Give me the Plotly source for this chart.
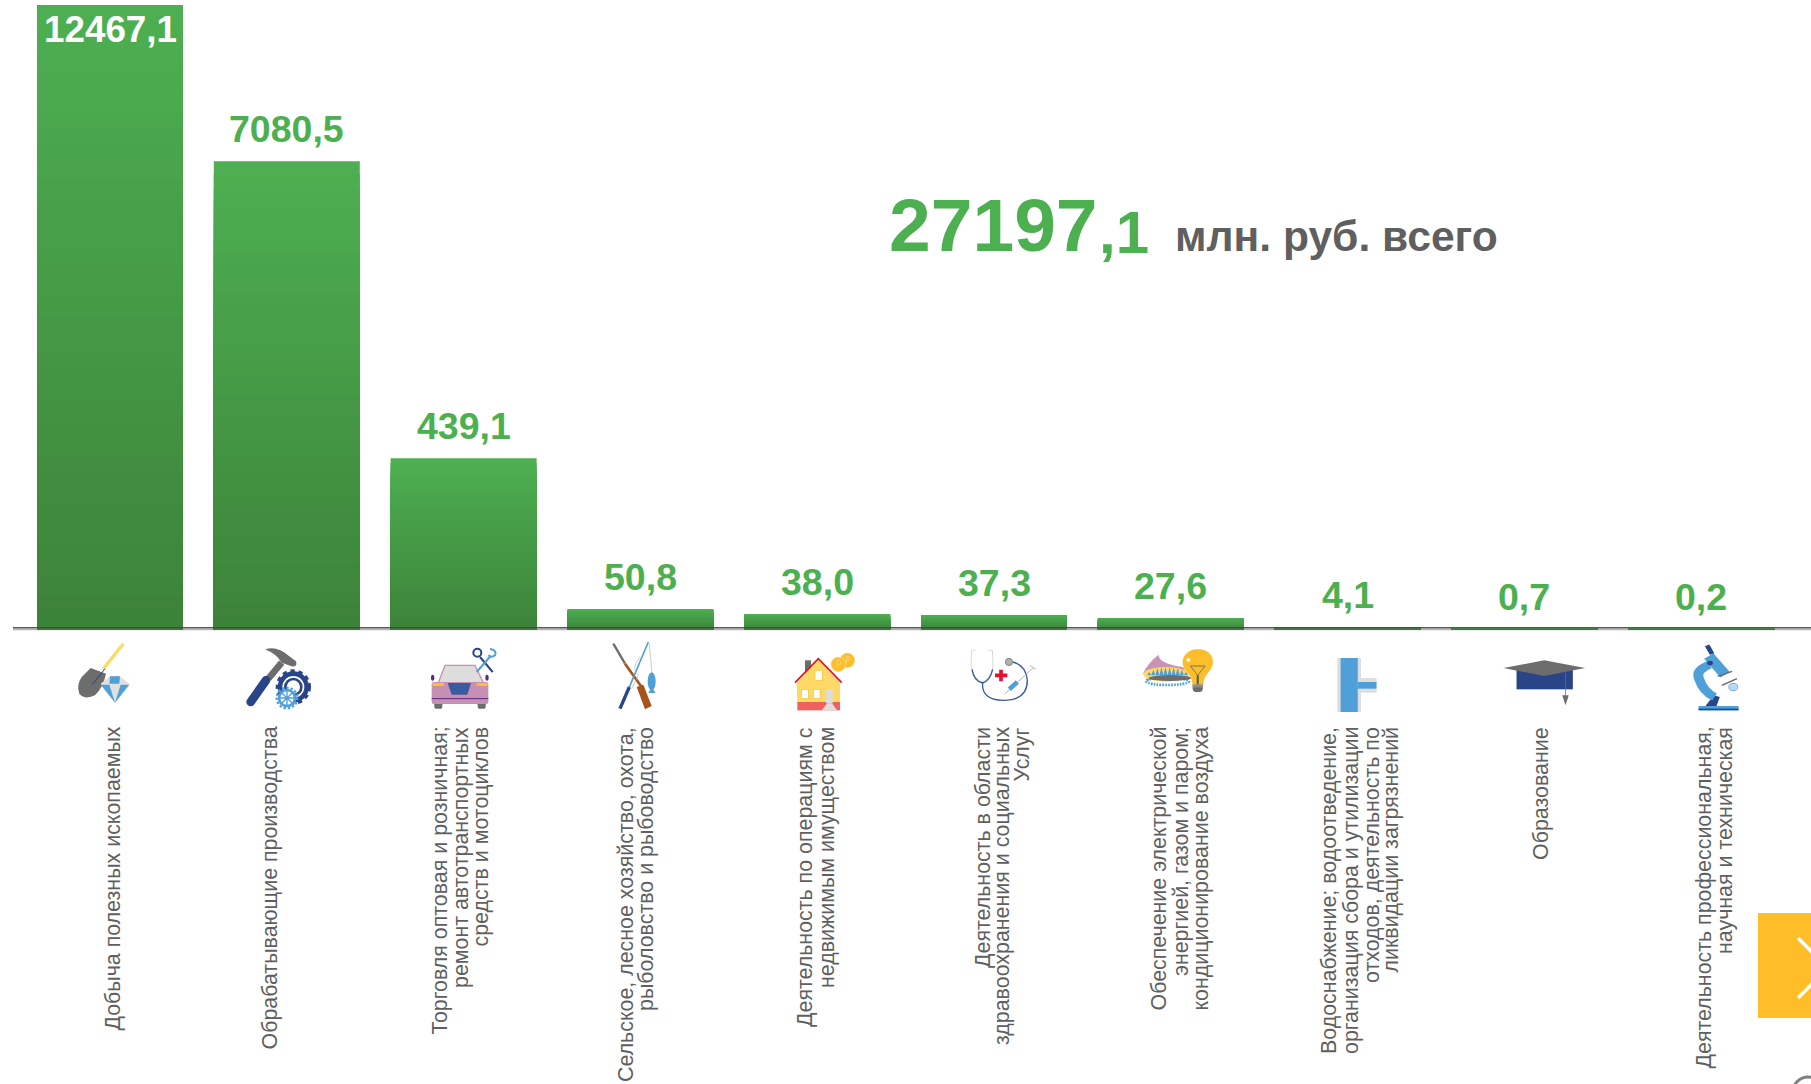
import base64
import plotly.graph_objects as go

W, H = 1811, 1084

# ---- data ----
categories = [
    "Добыча полезных ископаемых",
    "Обрабатывающие производства",
    "Торговля оптовая и розничная; ремонт автотранспортных средств и мотоциклов",
    "Сельское, лесное хозяйство, охота, рыболовство и рыбоводство",
    "Деятельность по операциям с недвижимым имуществом",
    "Деятельность в области здравоохранения и социальных Услуг",
    "Обеспечение электрической энергией, газом и паром; кондиционирование воздуха",
    "Водоснабжение; водоотведение, организация сбора и утилизации отходов, деятельность по ликвидации загрязнений",
    "Образование",
    "Деятельность профессиональная, научная и техническая",
]
label_lines = [
    ["Добыча полезных ископаемых"],
    ["Обрабатывающие производства"],
    ["Торговля оптовая и розничная;", "ремонт автотранспортных", "средств и мотоциклов"],
    ["Сельское, лесное хозяйство, охота,", "рыболовство и рыбоводство"],
    ["Деятельность по операциям с", "недвижимым имуществом"],
    ["Деятельность в области", "здравоохранения и социальных", "Услуг"],
    ["Обеспечение электрической", "энергией, газом и паром;", "кондиционирование воздуха"],
    ["Водоснабжение; водоотведение,", "организация сбора и утилизации", "отходов, деятельность по", "ликвидации загрязнений"],
    ["Образование"],
    ["Деятельность профессиональная,", "научная и техническая"],
]
value_labels = ["12467,1", "7080,5", "439,1", "50,8", "38,0", "37,3", "27,6", "4,1", "0,7", "0,2"]
# the source chart does not scale linearly: drawn bar lengths, % of the tallest bar
bar_lengths = [100, 75.0, 27.5, 3.36, 2.56, 2.4, 1.92, 0.43, 0.2, 0.2]
total_big = "27197"
total_small = ",1"
total_unit = "млн. руб. всего"

# ---- layout helpers (page pixels -> paper) ----
px = lambda v: v / W
py = lambda v: 1 - v / H
GREEN, GREY = "#4CAF50", "#5F5F5F"
FONT = "Liberation Sans, Arial, sans-serif"
line_x = [[112.6], [269], [439.5, 460.5, 480.5], [625.5, 646], [805, 826.5], [982.5, 1002, 1021.5],
          [1158.5, 1180.5, 1200.5], [1328.5, 1350.5, 1372, 1390.5], [1540.5], [1703.5, 1724.5]]

fig = go.Figure()

# vertical gradient of the bars: overlaid bars, lightest and longest first
N = 36
top, bottom = (0x4D, 0xAF, 0x51), (0x3C, 0x82, 0x39)
for k in range(N):
    t = k / N
    col = tuple(round(a + (b - a) * t) for a, b in zip(top, bottom))
    fig.add_trace(go.Bar(
        x=categories, y=[h * (1 - t) for h in bar_lengths],
        marker=dict(color="rgb(%d,%d,%d)" % col, line=dict(width=0)),
        hoverinfo="skip", showlegend=False,
    ))

ann = []
for i, lab in enumerate(value_labels):
    first = i == 0
    ann.append(dict(x=i, y=bar_lengths[i], xref="x", yref="y", text="<b>%s</b>" % lab, showarrow=False,
                    xanchor="center", yanchor="top" if first else "bottom", yshift=-2.5 if first else 10,
                    font=dict(family=FONT, size=36.8 if first else 37.5, color="#FFFFFF" if first else GREEN),
                    borderpad=0))
for lines, xs in zip(label_lines, line_x):
    for s, xp in zip(lines, xs):
        ann.append(dict(x=px(xp), y=py(726), xref="paper", yref="paper", text=s, showarrow=False, textangle=-90,
                        xanchor="center", yanchor="top", borderpad=0,
                        font=dict(family=FONT, size=21.4, color=GREY)))
ann.append(dict(x=px(888), y=py(225), xref="paper", yref="paper", xanchor="left", yanchor="middle", showarrow=False,
                text="<b>%s</b>" % total_big, font=dict(family=FONT, size=75, color=GREEN), borderpad=0))
ann.append(dict(x=px(1098), y=py(232), xref="paper", yref="paper", xanchor="left", yanchor="middle", showarrow=False,
                text="<b>%s</b>" % total_small, font=dict(family=FONT, size=60, color=GREEN), borderpad=0))
ann.append(dict(x=px(1174), y=py(236), xref="paper", yref="paper", xanchor="left", yanchor="middle", showarrow=False,
                text="<b>%s</b>" % total_unit, font=dict(family=FONT, size=42.6, color=GREY), borderpad=0))

BL, NV, GR, YL = "#4F9FD9", "#2A4488", "#6D6D6D", "#FFD966"

group1 = f'''
<line x1="190" y1="35" x2="130" y2="110" stroke="{YL}" stroke-width="10"/>
<path d="M92,108 L138,125 Q130,165 105,190 Q75,205 58,185 Q48,160 65,135 Z" fill="{GR}"/>
<line x1="135" y1="110" x2="97" y2="158" stroke="{NV}" stroke-width="3"/>
<polygon points="122,155 150,133 180,133 208,155 165,212" fill="#E0E0E0"/>
<polygon points="150,133 180,133 178,155 148,155" fill="{BL}"/>
<polygon points="122,158 148,158 165,212" fill="{BL}"/>
<polygon points="208,158 182,158 165,212" fill="{BL}"/>
<path d="M615,52 Q650,40 682,68 L708,88 Q714,106 695,103 L665,92 Q650,66 615,52 Z" fill="{GR}"/>
<line x1="665" y1="92" x2="625" y2="140" stroke="{GR}" stroke-width="20"/>
<line x1="618" y1="145" x2="572" y2="210" stroke="{NV}" stroke-width="26" stroke-linecap="round"/>
<circle cx="700" cy="165" r="40" fill="white" stroke="{NV}" stroke-width="14"/>
<circle cx="700" cy="165" r="48" fill="none" stroke="{NV}" stroke-width="10" stroke-dasharray="13 11"/>
<circle cx="700" cy="165" r="24" fill="none" stroke="{NV}" stroke-width="8"/>
<circle cx="681" cy="198" r="24" fill="white" stroke="{BL}" stroke-width="8"/>
<circle cx="681" cy="198" r="31" fill="none" stroke="{BL}" stroke-width="7" stroke-dasharray="7 6"/>
<path d="M681,176 V220 M659,198 H703 M665,182 L697,214 M697,182 L665,214" stroke="{BL}" stroke-width="4"/>
<rect x="1123" y="212" width="24" height="18" rx="5" fill="{GR}"/>
<rect x="1253" y="212" width="24" height="18" rx="5" fill="{GR}"/>
<polygon points="1135,152 1155,100 1245,100 1270,152" fill="#DDDDDD" stroke="#C78FB3" stroke-width="4"/>
<rect x="1115" y="150" width="170" height="66" rx="6" fill="#C78FB3"/>
<rect x="1117" y="153" width="35" height="9" fill="#FDBE2C"/>
<rect x="1250" y="153" width="33" height="9" fill="#FDBE2C"/>
<polygon points="1163,153 1233,153 1222,188 1175,188" fill="#3A5BA0"/>
<line x1="1115" y1="200" x2="1285" y2="200" stroke="#5B2A86" stroke-width="3"/>
<ellipse cx="1118" cy="137" rx="5" ry="9" fill="#5B2A86"/><ellipse cx="1281" cy="137" rx="5" ry="9" fill="#5B2A86"/>
<line x1="1260" y1="75" x2="1298" y2="120" stroke="{NV}" stroke-width="6"/>
<circle cx="1252" cy="62" r="12" fill="white" stroke="{NV}" stroke-width="6"/>
<line x1="1292" y1="72" x2="1250" y2="120" stroke="{BL}" stroke-width="6"/>
<path d="M1290,50 Q1312,55 1305,70 Q1295,78 1285,70" fill="none" stroke="{BL}" stroke-width="6"/>
'''

group2 = f'''
<line x1="70" y1="35" x2="105" y2="95" stroke="{GR}" stroke-width="7"/>
<line x1="105" y1="95" x2="155" y2="165" stroke="#A8521C" stroke-width="8"/>
<polygon points="140,165 160,158 185,222 165,232" fill="#A8521C"/>
<line x1="175" y1="30" x2="118" y2="165" stroke="{BL}" stroke-width="5"/>
<line x1="118" y1="165" x2="90" y2="230" stroke="{NV}" stroke-width="10"/>
<path d="M178,35 L186,125 M150,75 Q120,110 145,130 L125,170" fill="none" stroke="#B5B5B5" stroke-width="2"/>
<ellipse cx="185" cy="148" rx="12" ry="27" fill="{BL}"/><polygon points="185,165 175,183 197,183" fill="{BL}"/>
<rect x="645" y="85" width="18" height="40" fill="{GR}"/>
<polygon points="620,152 685,82 750,152 750,212 622,212" fill="{YL}"/>
<rect x="622" y="210" width="128" height="25" fill="#F0605F"/>
<polyline points="615,152 685,80 755,152" fill="none" stroke="#E3112E" stroke-width="5"/>
<rect x="675" y="115" width="22" height="30" fill="white" stroke="#FDBE2C" stroke-width="2"/>
<rect x="635" y="172" width="20" height="28" fill="white" stroke="#FDBE2C" stroke-width="2"/>
<rect x="670" y="172" width="20" height="28" fill="white" stroke="#FDBE2C" stroke-width="2"/>
<rect x="708" y="172" width="20" height="42" fill="#DDDDDD"/>
<polygon points="695,235 712,214 726,214 741,235" fill="#DDDDDD"/>
<circle cx="772" cy="85" r="22" fill="#FDBE2C"/><circle cx="745" cy="97" r="22" fill="#FDBE2C" stroke="#FFE08A" stroke-width="2"/>
<path d="M742,108 V86 H750 Q756,92 750,98 H742 M769,96 V74 H777 Q783,80 777,86 H769" fill="none" stroke="#FFE08A" stroke-width="2"/>
<path d="M1157,55 H1145 L1143,100 Q1150,140 1176,150 Q1205,140 1209,100 L1207,55 H1195" fill="none" stroke="#D9D9D9" stroke-width="3"/>
<path d="M1146,112 Q1152,148 1178,153 Q1200,146 1208,112" fill="none" stroke="#3A5BA0" stroke-width="4"/>
<path d="M1178,150 Q1172,203 1240,205 Q1312,205 1312,145 Q1308,100 1268,90" fill="none" stroke="#3A5BA0" stroke-width="4"/>
<circle cx="1257" cy="90" r="11" fill="#AFAFAF" stroke="{GR}" stroke-width="2"/>
<path d="M1233,113 V148 M1215,130 H1252" stroke="#E3112E" stroke-width="11"/>
<line x1="1243" y1="187" x2="1330" y2="107" stroke="#B5B5B5" stroke-width="3"/>
<line x1="1258" y1="172" x2="1282" y2="150" stroke="{BL}" stroke-width="14"/>
<line x1="1320" y1="100" x2="1338" y2="112" stroke="#B5B5B5" stroke-width="3"/>
'''

flames = "".join(f'<polygon points="{x},130 {x+5},{y} {x+10},130" fill="{BL}"/>'
                 for x, y in zip(range(42, 142, 10), [120, 113, 108, 106, 105, 105, 106, 108, 113, 120]))
group3 = f'''
<path d="M32,125 Q42,95 70,68 Q70,95 130,105 L145,135 L45,145 Z" fill="#C893B5"/>
<ellipse cx="88" cy="127" rx="55" ry="22" fill="{YL}"/>{flames}
<ellipse cx="92" cy="148" rx="52" ry="11" fill="none" stroke="{BL}" stroke-width="8" stroke-dasharray="4 3"/>
<ellipse cx="98" cy="138" rx="52" ry="9" fill="{GR}"/>
<path d="M166,52 C195,52 205,75 203,95 C200,120 180,125 180,158 H153 C153,125 132,120 129,95 C127,75 140,52 166,52 Z" fill="#FDBE2C"/>
<circle cx="143" cy="84" r="5" fill="white"/>
<polygon points="148,102 184,102 166,130" fill="none" stroke="#595959" stroke-width="2"/>
<line x1="166" y1="130" x2="166" y2="158" stroke="#595959" stroke-width="5"/>
<rect x="153" y="157" width="26" height="14" fill="#8C8C8C"/><ellipse cx="166" cy="173" rx="12" ry="7" fill="{GR}"/>
<rect x="508" y="78" width="58" height="162" fill="#DDDDDD"/>
<rect x="558" y="138" width="46" height="44" fill="#DDDDDD"/>
<rect x="516" y="78" width="42" height="162" fill="{BL}"/>
<rect x="558" y="150" width="46" height="20" fill="{BL}"/>
<rect x="947" y="110" width="138" height="62" fill="{NV}"/>
<polygon points="915,108 1015,85 1115,108 1015,132" fill="{GR}"/>
<line x1="1067" y1="118" x2="1067" y2="192" stroke="{GR}" stroke-width="2"/>
<polygon points="1059,190 1075,190 1067,220" fill="{GR}"/>
<rect x="1393" y="222" width="98" height="14" fill="{BL}"/><rect x="1393" y="230" width="98" height="4" fill="{NV}"/>
<polygon points="1410,222 1430,190 1445,195 1437,222" fill="{NV}"/>
<path d="M1420,98 Q1385,115 1394,140 Q1405,180 1432,195" fill="none" stroke="{BL}" stroke-width="24"/>
<line x1="1418" y1="72" x2="1458" y2="128" stroke="{BL}" stroke-width="28"/>
<line x1="1414" y1="40" x2="1426" y2="66" stroke="{NV}" stroke-width="12"/>
<circle cx="1421" cy="93" r="7" fill="{NV}"/>
<line x1="1440" y1="133" x2="1475" y2="118" stroke="{GR}" stroke-width="4"/>
<line x1="1450" y1="160" x2="1487" y2="140" stroke="{GR}" stroke-width="4"/>
<circle cx="1478" cy="165" r="11" fill="#BBD9F0" stroke="{BL}" stroke-width="2"/>
'''


def svg_uri(body, vw, vh):
    s = (f'<svg xmlns="http://www.w3.org/2000/svg" width="{vw}" height="{vh}" viewBox="0 0 {vw} {vh}" '
         f'preserveAspectRatio="none">{body}</svg>')
    return "data:image/svg+xml;base64," + base64.b64encode(s.encode()).decode()


images = []
for body, (x0, y0, w, h), (vw, vh) in [
    (group1, (60, 632, 450, 90), (1350, 270)),
    (group2, (590, 632, 470, 90), (1410, 270)),
    (group3, (1130, 632, 640, 90), (1568, 270)),
]:
    images.append(dict(source=svg_uri(body, vw, vh), xref="paper", yref="paper", x=px(x0), y=py(y0),
                       sizex=w / W, sizey=h / H, sizing="stretch", xanchor="left", yanchor="top", layer="above"))

shapes = [
    dict(type="line", xref="paper", yref="paper", x0=px(13), x1=1, y0=py(629.5), y1=py(629.5),
         line=dict(color="#B4B4B4", width=1.5), layer="below"),
    dict(type="line", xref="paper", yref="paper", x0=px(13), x1=1, y0=py(627.8), y1=py(627.8),
         line=dict(color="rgba(70,70,70,0.9)", width=1.5), layer="above"),
    dict(type="rect", xref="paper", yref="paper", x0=px(1758), x1=1, y0=py(913), y1=py(1018),
         fillcolor="#FFBE27", line=dict(width=0), layer="above"),
    dict(type="path", xref="paper", yref="paper",
         path=f"M{px(1798)},{py(938)} L{px(1828)},{py(968)} L{px(1798)},{py(998)}",
         line=dict(color="white", width=3.5), layer="above"),
    dict(type="circle", xref="paper", yref="paper", x0=px(1793), x1=px(1823), y0=py(1107), y1=py(1077),
         line=dict(color="#808080", width=3), layer="above"),
]

fig.update_layout(
    width=W, height=H, margin=dict(l=0, r=0, t=0, b=0), paper_bgcolor="white", plot_bgcolor="white",
    barmode="overlay", bargap=1 - 146 / 176.8, showlegend=False, annotations=ann, images=images, shapes=shapes,
    xaxis=dict(domain=[px(13), 1], range=[(13 - 110) / 176.8, (1811 - 110) / 176.8], showticklabels=False,
               ticks="", showgrid=False, zeroline=False, showline=False, type="category",
               categoryorder="array", categoryarray=categories),
    yaxis=dict(domain=[py(630), 1], range=[0, 630 / 6.25], visible=False),
)
fig.write_html("out.html", config=dict(displayModeBar=False),
               post_script="document.body.style.margin='0';document.body.style.overflow='hidden';")
